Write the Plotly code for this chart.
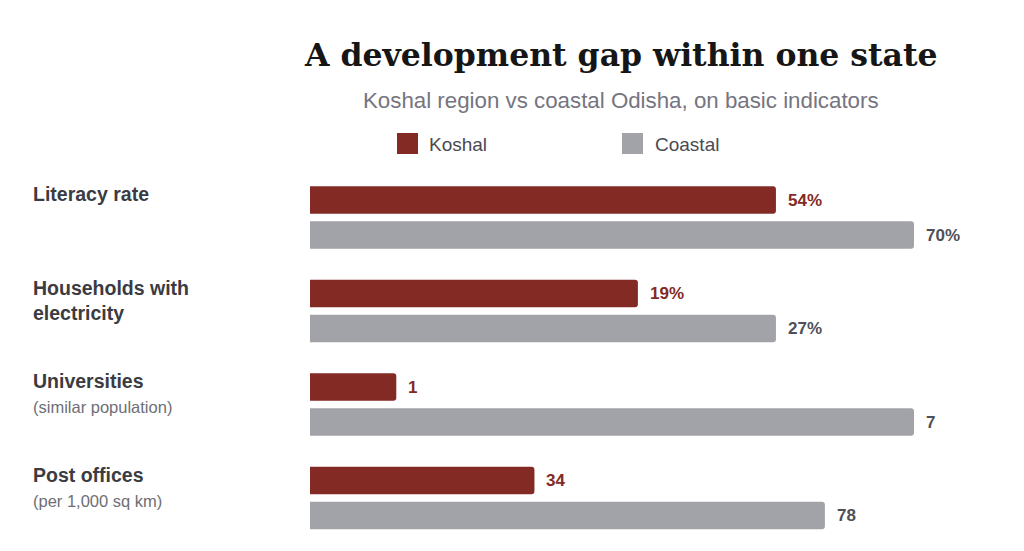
import plotly.graph_objects as go

# ---- data ----
indicators = ["Literacy rate", "Households with<br>electricity", "Universities", "Post offices"]
notes = ["", "", "(similar population)", "(per 1,000 sq km)"]
series = ["Koshal", "Coastal"]
koshal = [54, 19, 1, 34]
coastal = [70, 27, 7, 78]
value_suffix = ["%", "%", "", ""]
scale_max = [70, 35, 7, 91.5]

# ---- style ----
RED = "#832a25"
GRAY = "#a2a2a9"
RED_TXT = "#832a25"
GRAY_TXT = "#4f4f57"
LABEL = "#3b3b42"
NOTE = "#6e6e76"
SANS = "Liberation Sans, Arial, sans-serif"
SERIF = "DejaVu Serif, Georgia, serif"

W, H = 1024, 551
ML, MR, MT, MB = 310, 110, 182, 18
PW = W - ML - MR
PH = H - MT - MB


def px_x(px):
    return (px - ML) / PW


def px_y(py):
    return (H - MB - py) / PH


fig = go.Figure()
annotations = []
layout_axes = {}
for i, name in enumerate(indicators):
    n = "" if i == 0 else str(i + 1)
    top = 182.5 + 93.5 * i
    bot = top + 70
    fig.add_trace(go.Bar(
        x=[koshal[i], coastal[i]], y=series, orientation="h",
        marker=dict(color=[RED, GRAY], line=dict(width=0)),
        xaxis="x" + n, yaxis="y" + n, showlegend=False, hoverinfo="skip",
    ))
    layout_axes["xaxis" + n] = dict(domain=[0, 1], range=[0, scale_max[i]], visible=False,
                                   anchor="y" + n, fixedrange=True)
    layout_axes["yaxis" + n] = dict(domain=[px_y(bot), px_y(top)], range=[-0.5, 1.5],
                                   categoryorder="array", categoryarray=["Coastal", "Koshal"],
                                   visible=False, anchor="x" + n, fixedrange=True)
    # value labels
    for s, v, col in ((series[0], koshal[i], RED_TXT), (series[1], coastal[i], GRAY_TXT)):
        annotations.append(dict(
            x=v, y=s, xref="x" + n, yref="y" + n, xanchor="left", yanchor="middle",
            xshift=10, text=f"{v}{value_suffix[i]}", showarrow=False,
            font=dict(family=SANS, size=17, color=col, weight="bold"),
        ))
    # category labels
    txt = f"<b>{name}</b>"
    if notes[i]:
        txt += f"<br><span style='font-size:16.5px;color:{NOTE}'>{notes[i]}</span>"
    annotations.append(dict(
        x=px_x(31), y="Koshal", xref="paper", yref="y" + n, xanchor="left", yanchor="top",
        yshift=19, align="left", text=txt, showarrow=False,
        font=dict(family=SANS, size=19.5, color=LABEL),
    ))

# title and subtitle
annotations.append(dict(
    x=px_x(620.5), y=px_y(75), xref="paper", yref="paper", xanchor="center", yanchor="bottom",
    text="<b>A development gap within one state</b>", showarrow=False,
    font=dict(family=SERIF, size=31.5, color="#161616"),
))
annotations.append(dict(
    x=px_x(621), y=px_y(100.5), xref="paper", yref="paper", xanchor="center", yanchor="middle",
    text="Koshal region vs coastal Odisha, on basic indicators", showarrow=False,
    font=dict(family=SANS, size=22.3, color="#757580"),
))

# manual legend
shapes = []
for s, col, x0, tx in ((series[0], RED, 397, 427), (series[1], GRAY, 622, 653)):
    shapes.append(dict(type="rect", xref="paper", yref="paper",
                       x0=px_x(x0), x1=px_x(x0 + 21), y0=px_y(154), y1=px_y(133),
                       fillcolor=col, line=dict(width=0)))
    annotations.append(dict(
        x=px_x(tx), y=px_y(144), xref="paper", yref="paper", xanchor="left", yanchor="middle",
        text=s, showarrow=False, font=dict(family=SANS, size=19, color="#4a4a52"),
    ))

fig.update_layout(
    width=W, height=H,
    margin=dict(l=ML, r=MR, t=MT, b=MB),
    paper_bgcolor="white", plot_bgcolor="white",
    bargap=1 - 27.5 / 35,
    barcornerradius=3,
    annotations=annotations,
    shapes=shapes,
    showlegend=False,
    **layout_axes,
)

fig.write_html("out.html", config={"displayModeBar": False})
